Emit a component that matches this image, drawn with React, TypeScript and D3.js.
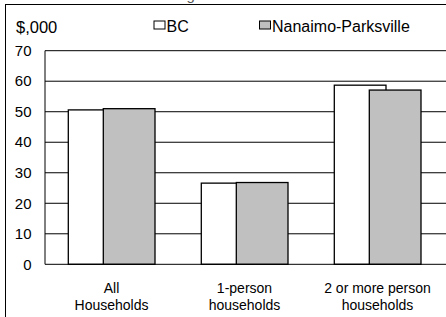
import React from 'react';
import * as d3 from 'd3';

const categories = [['All', 'Households'], ['1-person', 'households'], ['2 or more person', 'households']];
const seriesNames = ['BC', 'Nanaimo-Parksville'];
const bcValues = [50.6, 26.6, 58.7];
const nanaimoValues = [51.0, 26.8, 57.1];
const yTicks = [0, 10, 20, 30, 40, 50, 60, 70];

const W = 446, H = 317;
const plot = { left: 45, right: 444, top: 50.7, bottom: 264.3 };
const font = "'Liberation Sans', Arial, sans-serif";
const fills = ['#ffffff', '#c0c0c0'];

export default function App() {
  const x0 = d3.scaleBand<number>()
    .domain(d3.range(categories.length))
    .range([plot.left, plot.right]);
  const x1 = d3.scaleBand<string>()
    .domain(seriesNames)
    .range([23.3, 93.3]);
  const barW = 51.7;
  const y = d3.scaleLinear().domain([0, 70]).range([plot.bottom, plot.top]);
  const values = [bcValues, nanaimoValues];

  return (
    <svg width={W} height={H} style={{ position: 'absolute', left: 0, top: 0 }} fontFamily={font}>
      <rect width={W} height={H} fill="#fff" />
      {/* title is cropped off the top in the source image */}
      <text x={240} y={0} textAnchor="middle" fontSize={15} fill="#555">Average Household Income</text>
      <line x1={5} x2={W} y1={4.5} y2={4.5} stroke="#000" />
      <line x1={5.5} x2={5.5} y1={4} y2={H} stroke="#000" />

      <text x={16} y={32.5} fontSize={16.5}>$,000</text>
      {seriesNames.map((s, i) => {
        const lx = [154, 259.5][i];
        return (
          <g key={s}>
            <rect x={lx} y={21} width={11} height={8} fill={fills[i]} stroke="#000" strokeWidth={1} />
            <text x={lx + 12.5} y={32.3} fontSize={16}>{s}</text>
          </g>
        );
      })}

      {yTicks.map(t => (
        <g key={t}>
          {t > 0 && <line x1={plot.left} x2={plot.right + 2} y1={y(t)} y2={y(t)} stroke="#000" strokeWidth={1} />}
          <text x={31.5} y={y(t)} dy="0.35em" textAnchor="end" fontSize={15}>{t}</text>
        </g>
      ))}

      {values.map((vals, si) =>
        vals.map((v, ci) => (
          <rect key={`${si}-${ci}`}
            x={(x0(ci) as number) + (x1(seriesNames[si]) as number)}
            y={y(v)}
            width={barW}
            height={y(0) - y(v)}
            fill={fills[si]}
            stroke="#000"
            strokeWidth={1.3} />
        ))
      )}

      <line x1={plot.left} x2={plot.left} y1={plot.top} y2={plot.bottom} stroke="#000" />
      <line x1={plot.left} x2={plot.right + 2} y1={plot.bottom} y2={plot.bottom} stroke="#000" />

      {categories.map((lines, ci) => (
        <text key={ci} textAnchor="middle" fontSize={14}>
          {lines.map((l, li) => (
            <tspan key={li} x={(x0(ci) as number) + x0.bandwidth() / 2} y={293 + li * 17}>{l}</tspan>
          ))}
        </text>
      ))}
    </svg>
  );
}
